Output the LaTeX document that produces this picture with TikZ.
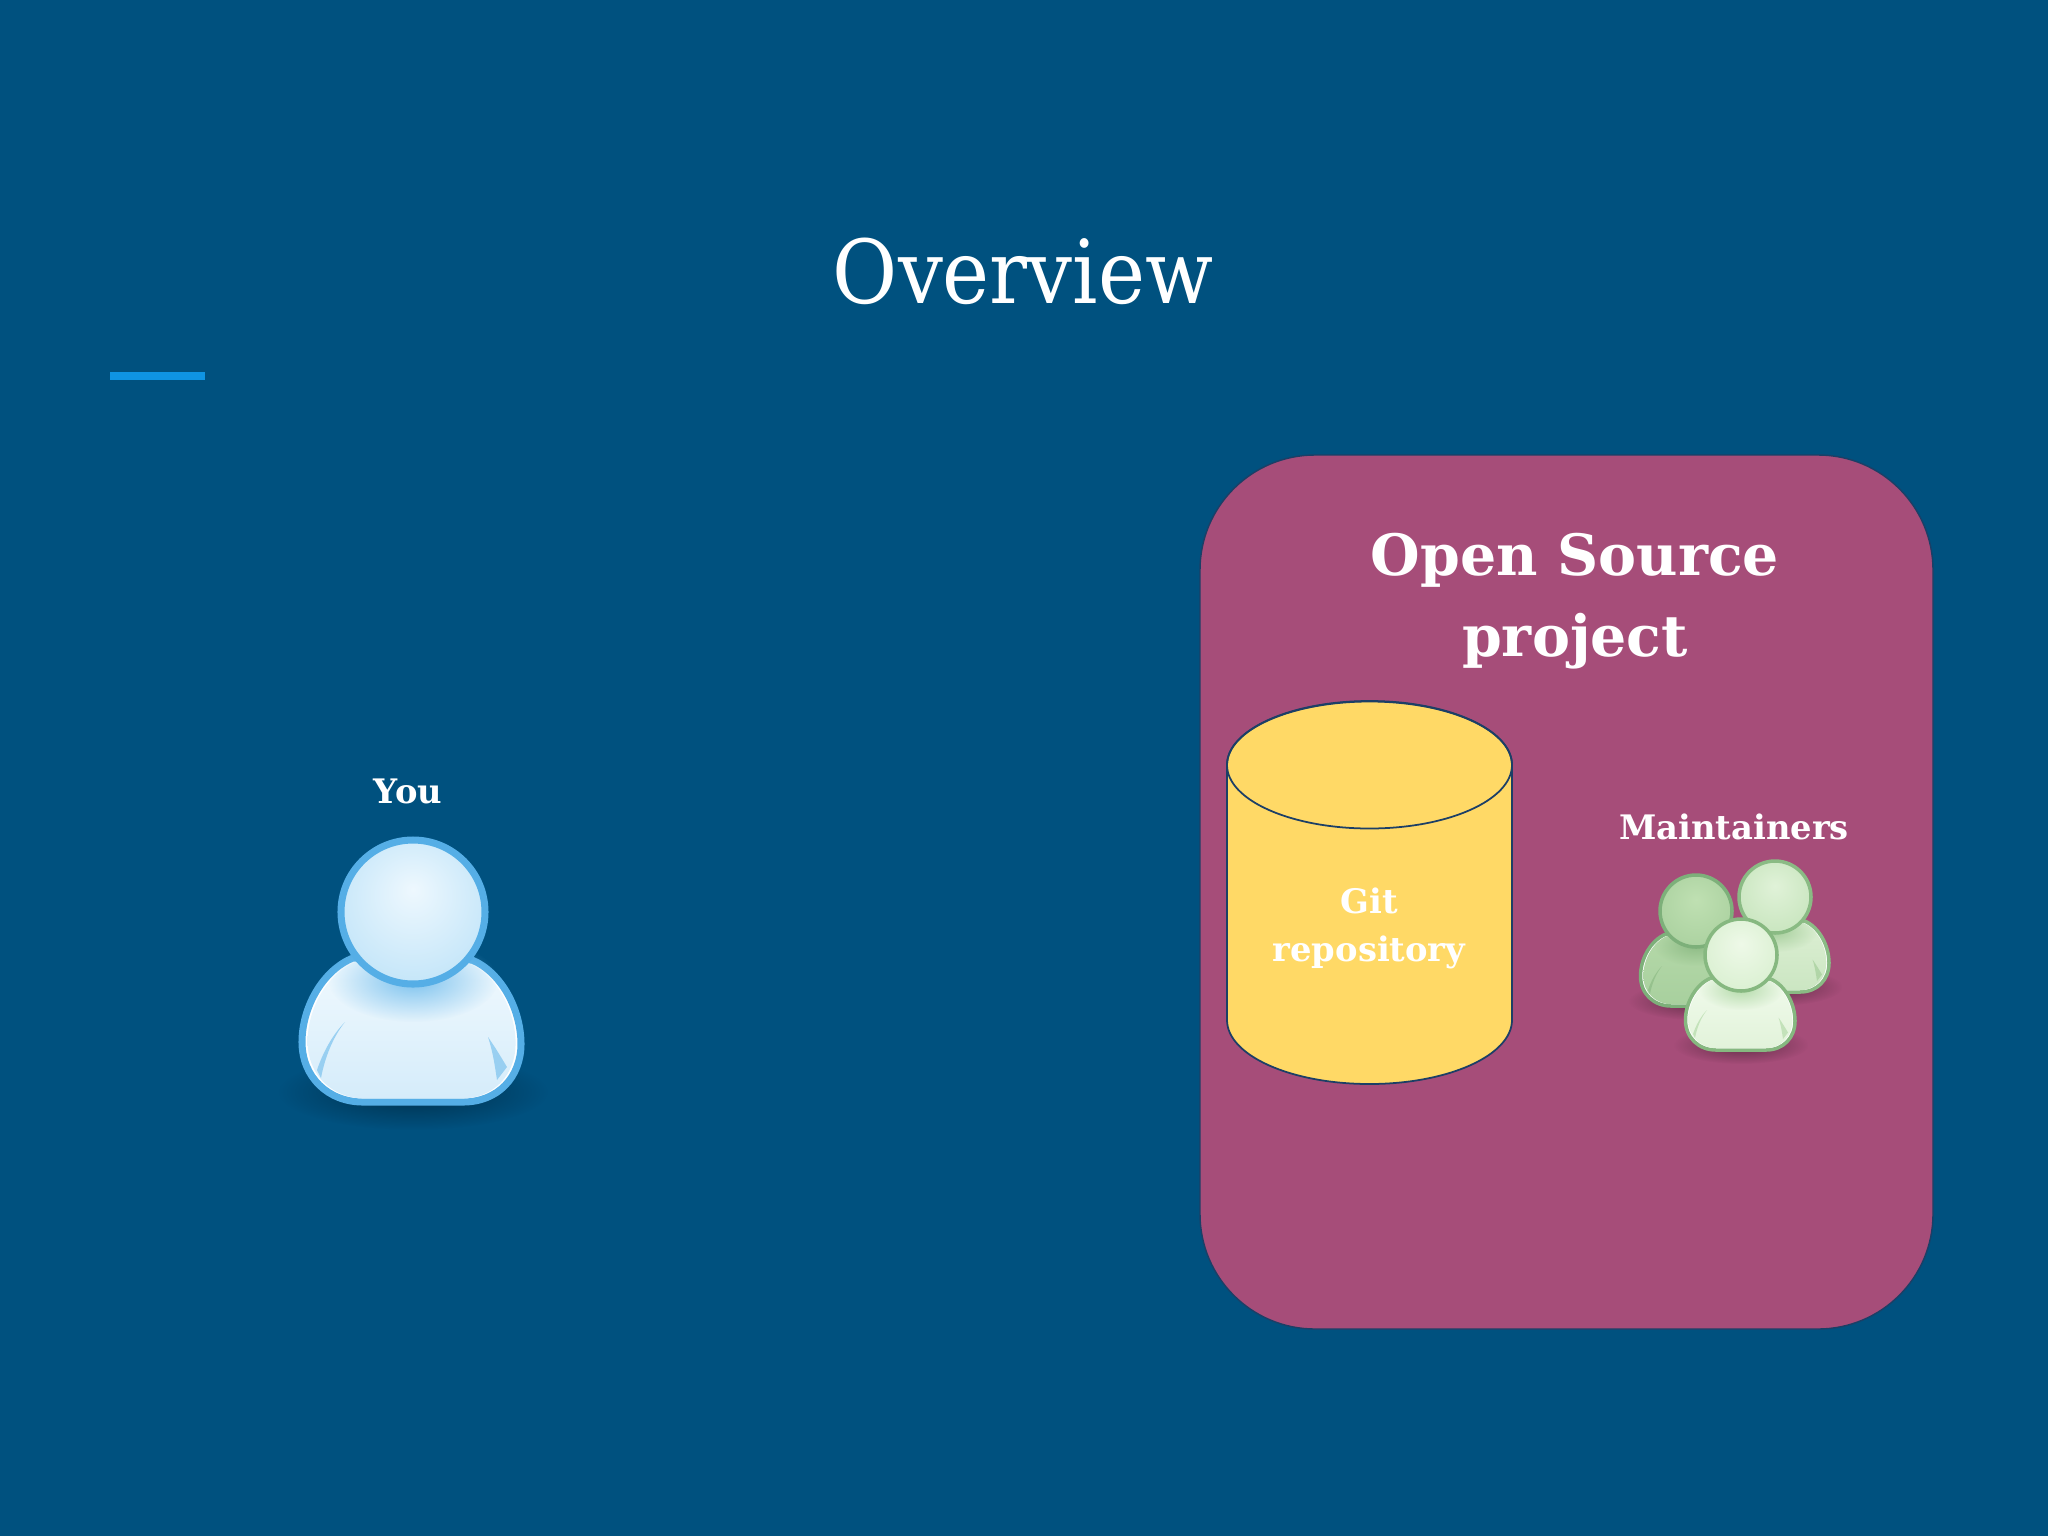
\documentclass[tikz,border=0pt]{standalone}
\usepackage{fontspec}
\setmainfont{DejaVu Serif}
\newfontfamily\titlefont{DejaVu Serif Condensed}
\usetikzlibrary{fadings}

\definecolor{slidebg}{HTML}{00517F}
\definecolor{accentbar}{HTML}{0F94E3}
\definecolor{projectfill}{HTML}{A64D79}
\definecolor{repofill}{HTML}{FFD966}
\definecolor{repoline}{HTML}{1C3F66}
\definecolor{youline}{HTML}{55AEE6}
\definecolor{youin}{HTML}{EEF8FE}
\definecolor{youout}{HTML}{BEE3F8}
\definecolor{youneck}{HTML}{7CC2EE}
\definecolor{youmid}{HTML}{F0F9FE}
\definecolor{youlow}{HTML}{D5ECFA}
\definecolor{mleftline}{HTML}{7DB07A}
\definecolor{mleftin}{HTML}{BFE0B2}
\definecolor{mleftout}{HTML}{A9D09E}
\definecolor{mleftneck}{HTML}{8DBB85}
\definecolor{mleftmid}{HTML}{B4D8A8}
\definecolor{mleftlow}{HTML}{A8D09E}
\definecolor{mrightline}{HTML}{8ABB84}
\definecolor{mrightin}{HTML}{E0F2D8}
\definecolor{mrightout}{HTML}{C6E4BC}
\definecolor{mrightneck}{HTML}{A5CE9B}
\definecolor{mrightmid}{HTML}{DCEFD3}
\definecolor{mrightlow}{HTML}{CBE6C2}
\definecolor{mfrontline}{HTML}{86B880}
\definecolor{mfrontin}{HTML}{EEF9E8}
\definecolor{mfrontout}{HTML}{D8EFCF}
\definecolor{mfrontneck}{HTML}{B5DBAB}
\definecolor{mfrontmid}{HTML}{F0FAEB}
\definecolor{mfrontlow}{HTML}{E2F3DA}

\pgfdeclareradialshading[headin,headout]{headball}{\pgfpoint{0bp}{8bp}}{
    color(0bp)=(headin); color(33bp)=(headout); color(50bp)=(headout)}
\tikzfading[name=softshadow, inner color=transparent!0, outer color=transparent!100]

\newcommand{\personbody}{(-60,46) .. controls (-90,58) and (-111,95) .. (-111,130)
    .. controls (-111,165) and (-85,190) .. (-50,190) -- (50,190)
    .. controls (85,190) and (108,165) .. (108,132)
    .. controls (108,97) and (88,60) .. (59,48) -- cycle}

\tikzset{
    pics/person/.style n args={7}{code={
        \colorlet{headin}{#2}\colorlet{headout}{#3}
        \fill[black, opacity=0.4, path fading=softshadow] (0,180) ellipse (135 and 38);
        \draw[#1, line width=#7, fill=white] \personbody;
        \shade[top color=#5, bottom color=#6, scale around={0.95:(0,122)}] \personbody;
        \fill[#4, path fading=softshadow] (0,68) ellipse (85 and 42);
        \fill[#4, opacity=0.7] (-68,110) .. controls (-80,122) and (-90,140) .. (-96,158)
            -- (-92,166) .. controls (-88,145) and (-80,125) .. (-68,110) -- cycle;
        \fill[#4, opacity=0.7] (75,125) .. controls (80,140) and (82,155) .. (84,168)
            -- (94,155) .. controls (88,145) and (82,135) .. (75,125) -- cycle;
        \draw[#1, line width=#7, shading=headball] (0,0) circle (72);
    }},
    titletext/.style={text=white, font=\titlefont\fontsize{25.1}{30}\selectfont},
    projecttext/.style={text=white, align=center, font=\bfseries\fontsize{16.2}{23}\selectfont},
    labeltext/.style={text=white, font=\bfseries\fontsize{9.6}{11}\selectfont},
    repotext/.style={text=white, align=center, font=\bfseries\fontsize{9.6}{13.7}\selectfont}
}

\begin{document}
\begin{tikzpicture}[x=0.01cm, y=-0.01cm]
    \fill[slidebg] (0,0) rectangle (2048,1536);
    \useasboundingbox (0,0) rectangle (2048,1536);

    \node[titletext] (title) at (1023,271) {Overview};
    \fill[accentbar] (110,372) rectangle (205,380);

    % left side
    \node[labeltext] (you) at (408,791) {You};
    \pic at (413,912) {person={youline}{youin}{youout}{youneck}{youmid}{youlow}{2pt}};

    % project box
    \draw[repoline, fill=projectfill, line width=0.4pt, rounded corners=1.15cm] (1200,455) rectangle (1933,1329);
    \node[projecttext] (project) at (1575,601) {Open Source\\project};

    % repository
    \draw[repoline, fill=repofill, line width=0.5pt] (1227,765) -- (1227,1020)
        arc[start angle=180, end angle=0, x radius=142.5, y radius=64] -- (1512,765)
        arc[start angle=0, end angle=-180, x radius=142.5, y radius=64];
    \draw[repoline, line width=0.5pt] (1369.5,765) ellipse (142.5 and 63.5);
    \node[repotext] (repo) at (1369,928) {Git\\repository};

    % maintainers
    \node[labeltext] (maintainers) at (1734,827) {Maintainers};
    \pic[scale=0.5] at (1696,911) {person={mleftline}{mleftin}{mleftout}{mleftneck}{mleftmid}{mleftlow}{1pt}};
    \pic[scale=0.5] at (1775,897) {person={mrightline}{mrightin}{mrightout}{mrightneck}{mrightmid}{mrightlow}{1pt}};
    \pic[scale=0.5] at (1741,955) {person={mfrontline}{mfrontin}{mfrontout}{mfrontneck}{mfrontmid}{mfrontlow}{1pt}};
\end{tikzpicture}
\end{document}
